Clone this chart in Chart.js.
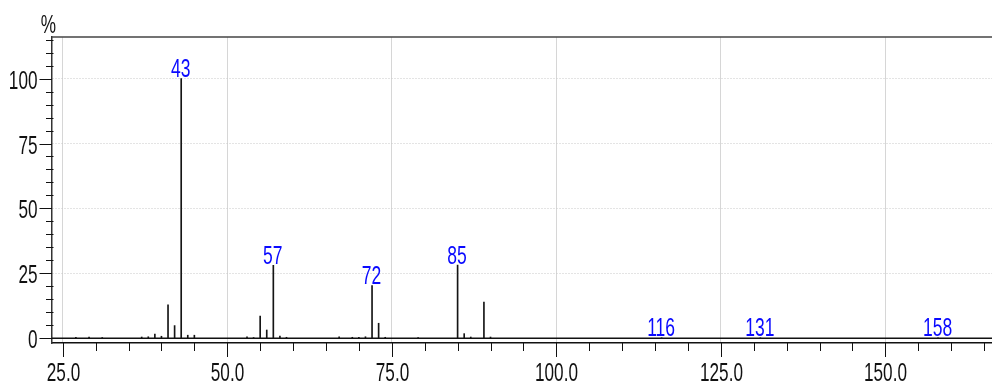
<!DOCTYPE html>
<html>
<head>
<meta charset="utf-8">
<script src="https://cdn.jsdelivr.net/npm/chart.js@4/dist/chart.umd.min.js"></script>
<style>
  html, body { margin: 0; padding: 0; background: #fff; }
  canvas { display: block; }
</style>
</head>
<body>
<canvas id="ms" width="992" height="388"></canvas>
<script>
// Fragment masses (m/z) of the spectrum
const mz = [27, 29, 31, 37, 38, 39, 40, 41, 42, 43, 44, 45, 53, 54, 55, 56, 57, 58, 59,
            67, 69, 70, 71, 72, 73, 74, 79, 85, 86, 87, 89, 90, 116, 131, 158];
// Relative abundance of each fragment, % of the base peak
const abundance = [0.4, 0.5, 0.3, 0.5, 0.6, 1.6, 0.8, 12.9, 4.9, 100, 1.2, 1.2, 0.6, 0.3, 8.6, 3.2, 28.1, 0.9, 0.4,
                   0.6, 0.4, 0.4, 0.6, 20.3, 5.8, 0.4, 0.3, 28.2, 1.8, 0.5, 14.0, 0.5, 0.2, 0.2, 0.2];
// Peaks annotated with their mass
const labelledMz = [43, 57, 72, 85, 116, 131, 158];

// Tall, narrow lettering used by the instrument software
function narrowText(ctx, text, x, y, align, color, size, squeeze) {
  ctx.save();
  ctx.font = size + 'px "Liberation Sans", Arial, sans-serif';
  ctx.fillStyle = color;
  ctx.textAlign = align;
  ctx.textBaseline = 'alphabetic';
  ctx.translate(x, y);
  ctx.scale(squeeze, 1);
  ctx.fillText(text, 0, 0);
  ctx.restore();
}

function stroke(ctx, x1, y1, x2, y2) {
  ctx.beginPath();
  ctx.moveTo(x1, y1);
  ctx.lineTo(x2, y2);
  ctx.stroke();
}

const isMultiple = (v, step) => Math.abs(v / step - Math.round(v / step)) < 1e-6;

// Frame, zero line, tick marks, tick labels and peak annotations
const spectrumFrame = {
  id: 'spectrumFrame',
  afterDatasetsDraw(chart) {
    const { ctx, chartArea: a, scales: { x, y } } = chart;
    ctx.save();

    // zero-intensity line and top frame line
    ctx.strokeStyle = '#111';
    ctx.lineWidth = 1.4;
    const y0 = y.getPixelForValue(0);
    stroke(ctx, a.left, y0, a.right, y0);
    ctx.strokeStyle = '#444';
    ctx.lineWidth = 1.6;
    stroke(ctx, a.left, a.top, a.right, a.top);

    // x axis: minor every 5, labelled major every 25
    ctx.strokeStyle = '#111';
    ctx.lineWidth = 1;
    x.ticks.forEach(t => {
      const v = t.value;
      if (!isMultiple(v, 5)) return;
      const px = Math.round(x.getPixelForValue(v)) + 0.5;
      const major = isMultiple(v, 25);
      stroke(ctx, px, a.bottom, px, a.bottom + (major ? 14 : 8));
      if (major) narrowText(ctx, v.toFixed(1), px, a.bottom + 38, 'center', '#111', 26, 0.66);
    });

    // y axis: minor every 5, labelled major every 25
    y.ticks.forEach(t => {
      const v = t.value;
      if (!isMultiple(v, 5)) return;
      const py = Math.round(y.getPixelForValue(v)) + 0.5;
      const major = isMultiple(v, 25);
      stroke(ctx, a.left - (major ? 12.5 : 6), py, a.left + (major ? 0 : 1.5), py);
      if (major) narrowText(ctx, String(v), a.left - 14.5, py + 9, 'right', '#111', 26, 0.66);
    });

    narrowText(ctx, '%', a.left - 3.5, a.top - 4, 'center', '#111', 26, 0.66);

    // mass labels above the annotated peaks
    const meta = chart.getDatasetMeta(0);
    labelledMz.forEach(m => {
      const el = meta.data[mz.indexOf(m)];
      if (!el) return;
      narrowText(ctx, String(m), el.x - 0.5, el.y - 1.5, 'center', '#0a0aff', 25, 0.7);
    });

    ctx.restore();
  }
};

new Chart(document.getElementById('ms'), {
  type: 'bar',
  data: {
    datasets: [{
      data: mz.map((m, i) => ({ x: m, y: abundance[i] })),
      backgroundColor: '#151515',
      borderWidth: 0,
      barThickness: 1
    }]
  },
  options: {
    responsive: false,
    animation: false,
    layout: { padding: { left: 52, top: 37, right: 0, bottom: 45 } },
    plugins: { legend: { display: false }, tooltip: { enabled: false } },
    scales: {
      x: {
        type: 'linear',
        offset: false,
        min: 23.37,
        max: 166.2,
        afterFit(s) { s.height = 0; },
        ticks: { display: false, stepSize: 5, includeBounds: false },
        grid: {
          offset: false,
          drawTicks: false,
          lineWidth: 1,
          color: c => (c.tick && isMultiple(c.tick.value, 25)) ? '#d6d6d6' : 'rgba(0,0,0,0)'
        },
        border: { display: true, color: '#111', width: 1.4 }
      },
      y: {
        min: -1.8,
        max: 116,
        afterFit(s) { s.width = 0; },
        ticks: { display: false, stepSize: 5, includeBounds: false },
        grid: {
          drawTicks: false,
          lineWidth: 1,
          color: c => (c.tick && c.tick.value > 0 && isMultiple(c.tick.value, 25)) ? '#c8c8c8' : 'rgba(0,0,0,0)'
        },
        border: { display: true, color: '#333', width: 1.5, dash: [1, 2] }
      }
    }
  },
  plugins: [spectrumFrame]
});
</script>
</body>
</html>
